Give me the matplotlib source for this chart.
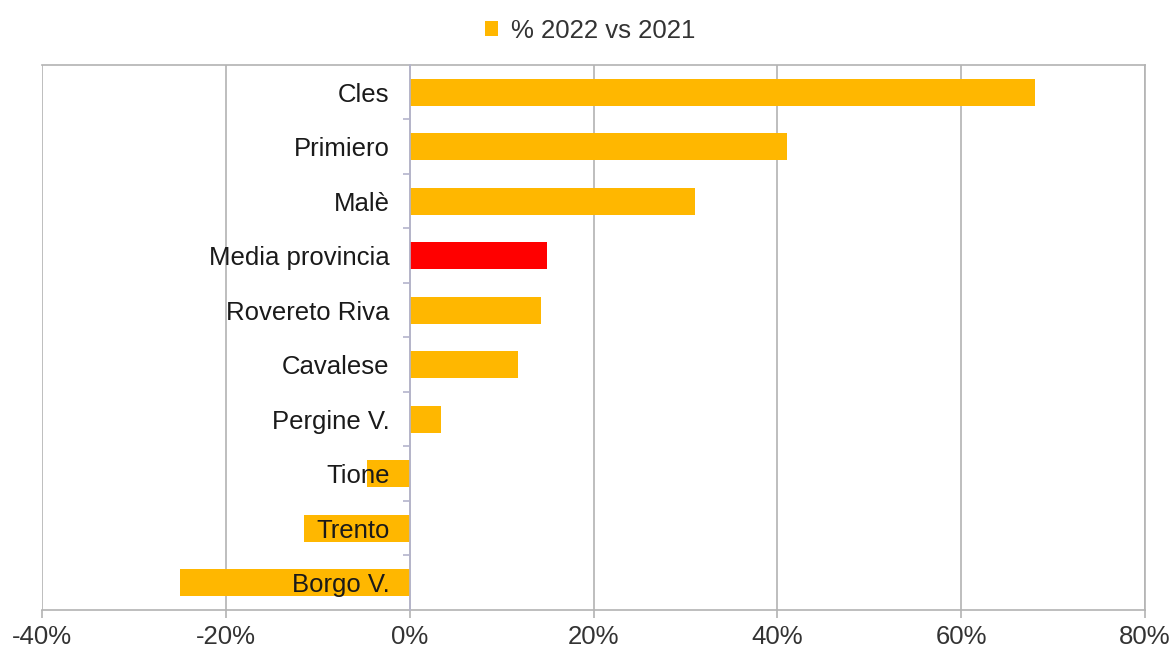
import matplotlib.pyplot as plt
from matplotlib.patches import Patch
from matplotlib.ticker import FuncFormatter, FixedLocator

plt.rcParams['font.family'] = ['Liberation Sans', 'DejaVu Sans']

categories = ['Cles', 'Primiero', 'Malè', 'Media provincia', 'Rovereto Riva',
              'Cavalese', 'Pergine V.', 'Tione', 'Trento', 'Borgo V.']
values = [68.0, 41.0, 31.0, 14.9, 14.3, 11.8, 3.4, -4.6, -11.5, -25.0]
highlight = 'Media provincia'
series_name = '% 2022 vs 2021'

gold = '#ffb700'
red = '#ff0000'
grid_col = '#b3b3b3'

fig = plt.figure(figsize=(11.74, 6.55), dpi=100)
ax = fig.add_axes([0.0358, 0.0687, 0.9395, 0.8321])

pos = list(range(len(categories)))
colors = [red if c == highlight else gold for c in categories]
ax.barh(pos, values, height=0.5, color=colors, zorder=2)

ax.set_xlim(-40, 80)
ax.set_ylim(len(categories) - 0.5, -0.5)
ax.set_xticks(range(-40, 81, 20))
ax.xaxis.set_major_formatter(FuncFormatter(lambda v, p: f'{v:.0f}%'))

ax.grid(axis='x', color=grid_col, linewidth=1.2)
ax.set_axisbelow(True)

# category axis sits at 0 and its labels are drawn over the bars
ax.spines['left'].set_position(('data', 0))
ax.spines['left'].set_color('#b4b4cc')
ax.spines['left'].set_linewidth(1.2)
ax.yaxis.set_zorder(3)
ax.spines['left'].set_zorder(3)
ax.set_yticks(pos)
ax.set_yticklabels(categories)
ax.yaxis.set_minor_locator(FixedLocator([p + 0.5 for p in pos[:-1]]))
ax.tick_params(axis='y', which='major', length=0, pad=14.5,
               labelsize=18.5, labelcolor='#1a1a1a')
ax.tick_params(axis='y', which='minor', length=5, width=1.2,
               color='#b4b4cc', direction='out')

for side in ('top', 'right', 'bottom'):
    ax.spines[side].set_color(grid_col)
    ax.spines[side].set_linewidth(1.2)

ax.tick_params(axis='x', length=6, width=1.2, color=grid_col, pad=5,
               labelsize=18.5, labelcolor='#333333')

fig.legend(handles=[Patch(facecolor=gold, edgecolor='none', label=series_name)],
           loc='center', bbox_to_anchor=(0.503, 0.953), frameon=False,
           fontsize=18.5, handlelength=0.5, handleheight=0.5,
           handletextpad=0.5, labelcolor='#333333')

fig.savefig('out.png', dpi=100)
